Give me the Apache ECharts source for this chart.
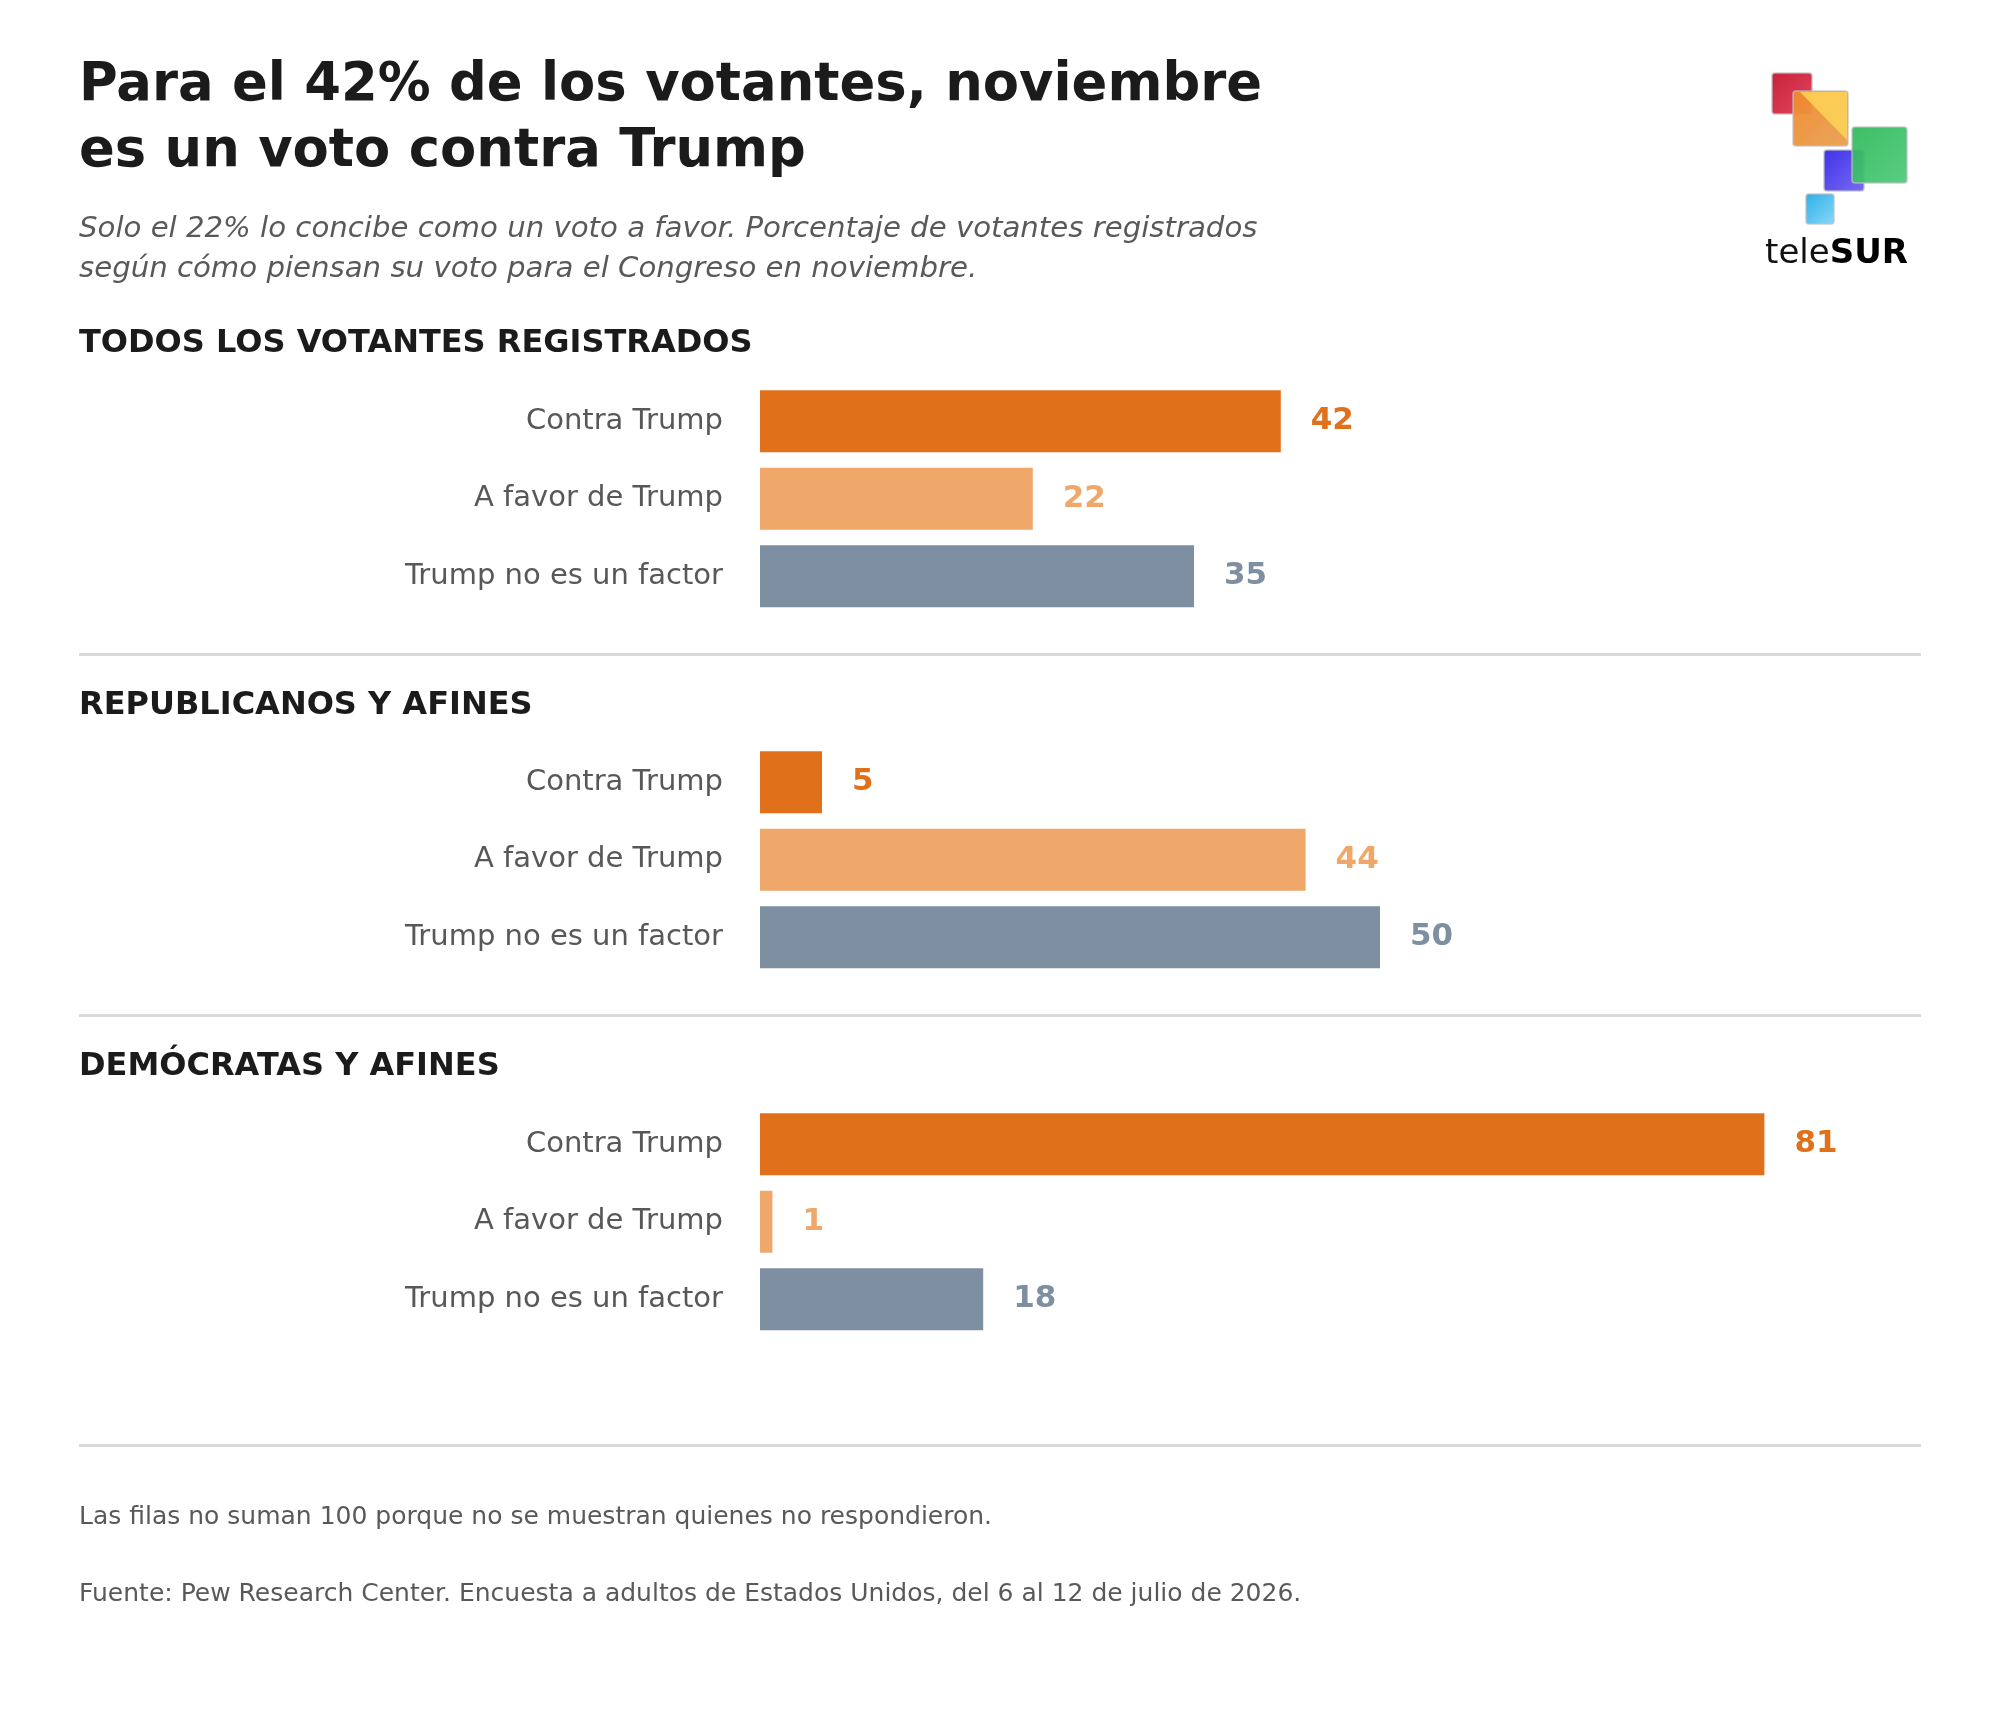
<!DOCTYPE html>
<html>
<head>
<meta charset="utf-8">
<script src="https://cdn.jsdelivr.net/npm/echarts@6/dist/echarts.min.js"></script>
<style>
  html, body { margin: 0; padding: 0; background: #ffffff; }
  #chart { width: 2000px; height: 1720px; }
</style>
</head>
<body>
<div id="chart"></div>
<script>
// ---------- data ----------
const categories = ['Contra Trump', 'A favor de Trump', 'Trump no es un factor'];
const groupTitles = ['TODOS LOS VOTANTES REGISTRADOS', 'REPUBLICANOS Y AFINES', 'DEMÓCRATAS Y AFINES'];
const todosValues = [42, 22, 35];
const republicanosValues = [5, 44, 50];
const democratasValues = [81, 1, 18];
const titleText = 'Para el 42% de los votantes, noviembre\nes un voto contra Trump';
const subtitleText = 'Solo el 22% lo concibe como un voto a favor. Porcentaje de votantes registrados\nsegún cómo piensan su voto para el Congreso en noviembre.';
const noteText = 'Las filas no suman 100 porque no se muestran quienes no respondieron.';
const sourceText = 'Fuente: Pew Research Center. Encuesta a adultos de Estados Unidos, del 6 al 12 de julio de 2026.';

// ---------- styling ----------
const FONT = '"DejaVu Sans", "Noto Sans", sans-serif';
const barColors = ['#E1701B', '#EFA86A', '#7E8FA1'];
const groupValues = [todosValues, republicanosValues, democratasValues];
const gridTops = [382.5, 743.5, 1105.5];
const headerY = [343.5, 705.5, 1066.5];
const separatorsY = [653, 1014, 1444];

const chart = echarts.init(document.getElementById('chart'), null, { renderer: 'canvas' });

const grids = [], xAxes = [], yAxes = [], series = [];
groupValues.forEach((vals, i) => {
  grids.push({ left: 760, width: 1240, top: gridTops[i], height: 232.5, containLabel: false });
  xAxes.push({ type: 'value', gridIndex: i, min: 0, max: 100, show: false });
  yAxes.push({
    type: 'category', gridIndex: i, data: categories, inverse: true,
    axisLine: { show: false }, axisTick: { show: false }, splitLine: { show: false },
    axisLabel: { fontSize: 29, color: '#585858', margin: 37, fontFamily: FONT }
  });
  series.push({
    type: 'bar', xAxisIndex: i, yAxisIndex: i, barWidth: 62,
    data: vals.map((v, k) => ({
      value: v,
      itemStyle: { color: barColors[k] },
      label: { color: barColors[k] }
    })),
    label: { show: true, position: 'right', distance: 30, fontSize: 31, fontWeight: 'bold', fontFamily: FONT }
  });
});

const graphics = [];
// title
graphics.push({ type: 'text', x: 79, y: 53, style: {
  text: titleText, fill: '#1b1b1b', fontSize: 52.8, fontWeight: 'bold', fontFamily: FONT,
  lineHeight: 66, verticalAlign: 'top', align: 'left' } });
// subtitle
graphics.push({ type: 'text', x: 79, y: 209.5, style: {
  text: subtitleText, fill: '#595959', fontSize: 29.2, fontStyle: 'italic', fontFamily: FONT,
  lineHeight: 40, verticalAlign: 'top', align: 'left' } });
// group headers
groupTitles.forEach((t, i) => {
  graphics.push({ type: 'text', x: 79, y: headerY[i], style: {
    text: t, fill: '#1b1b1b', fontSize: 32, fontWeight: 'bold', fontFamily: FONT,
    verticalAlign: 'middle', align: 'left' } });
});
// separators
separatorsY.forEach(y => {
  graphics.push({ type: 'rect', shape: { x: 79, y: y, width: 1842, height: 3 }, style: { fill: '#dadada' } });
});
// footnotes
graphics.push({ type: 'text', x: 79, y: 1517, style: { text: noteText, fill: '#595959', fontSize: 25, fontFamily: FONT, verticalAlign: 'middle' } });
graphics.push({ type: 'text', x: 79, y: 1594, style: { text: sourceText, fill: '#595959', fontSize: 25, fontFamily: FONT, verticalAlign: 'middle' } });

// logo
function sq(x, y, w, h, c1, c2, op) {
  return { type: 'rect', shape: { x: x, y: y, width: w, height: h, r: 3 },
    style: { fill: new echarts.graphic.LinearGradient(0, 0, 1, 1, [
      { offset: 0, color: c1 }, { offset: 1, color: c2 }]),
      stroke: 'rgba(190,190,200,0.8)', lineWidth: 1.5, opacity: op } };
}
graphics.push(sq(1772, 73, 40, 41, '#C8203C', '#E04A5C', 1));
graphics.push(sq(1793, 91, 55, 55, '#F08A2E', '#E8A050', 0.95));
graphics.push({ type: 'polygon', shape: { points: [[1800, 92], [1847, 92], [1847, 140]] },
  style: { fill: 'rgba(255,220,90,0.75)' } });
graphics.push(sq(1824, 150, 40, 41, '#3E32E8', '#7A6CF2', 1));
graphics.push(sq(1852, 127, 55, 56, '#2FB85A', '#4CCB78', 0.93));
graphics.push(sq(1806, 194, 28, 30, '#2AAEE8', '#8AD9F8', 1));
graphics.push({ type: 'text', x: 1908, y: 254, style: {
  text: '{a|tele}{b|SUR}', align: 'right', verticalAlign: 'middle',
  rich: {
    a: { fontSize: 34, fontFamily: FONT, fill: '#111111', color: '#111111' },
    b: { fontSize: 34, fontFamily: FONT, fontWeight: 'bold', fill: '#000000', color: '#000000' }
  } } });

chart.setOption({
  backgroundColor: '#ffffff',
  animation: false,
  grid: grids,
  xAxis: xAxes,
  yAxis: yAxes,
  series: series,
  graphic: { elements: graphics }
});
</script>
</body>
</html>
